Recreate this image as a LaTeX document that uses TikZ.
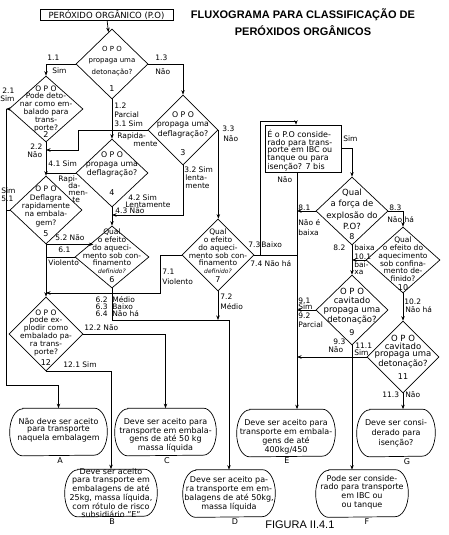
\documentclass[tikz,border=0pt]{standalone}
\usepackage{fontspec}
\usepackage{graphicx}
\setmainfont{DejaVu Sans}
\newfontfamily\arialfam{Liberation Sans}
\usetikzlibrary{shapes.geometric,arrows.meta}
\newcommand\myStadium[1]{%
  \draw ([xshift=13pt]#1.north west) -- ([xshift=-13pt]#1.north east)
    arc[start angle=90,end angle=-90,x radius=13pt,y radius=23.5pt]
    -- ([xshift=13pt]#1.south west)
    arc[start angle=270,end angle=90,x radius=13pt,y radius=23.5pt] -- cycle;}
\begin{document}
\begin{tikzpicture}[x=1pt,y=-1pt, line width=0.7pt, >={Stealth[length=4.5pt,width=3.5pt]},
 dia/.style 2 args={diamond, draw, minimum width=#1, minimum height=#2, inner sep=0pt},
 dt/.style 2 args={font=\fontsize{#1}{#2}\selectfont, align=center, inner sep=0pt},
 lb/.style={font=\fontsize{7.5}{8}\selectfont, inner sep=0pt, anchor=west},
 lbe/.style={font=\fontsize{7.5}{8}\selectfont, inner sep=0pt, anchor=east},
 num/.style={font=\fontsize{8}{8}\selectfont, inner sep=0pt},
 defi/.style={font=\fontsize{6}{6}\selectfont\itshape, inner sep=0pt},
 term/.style={minimum height=47, inner sep=0pt},
 tt/.style 2 args={font=\fontsize{#1}{#2}\selectfont, align=center, inner sep=0pt},
 tlet/.style={font=\fontsize{8}{8}\selectfont, inner sep=0pt},
]
\useasboundingbox (0,0) rectangle (448,535);

% ---------- titles ----------
\node[draw, minimum width=133, minimum height=11, inner sep=0pt, font=\fontsize{8.5}{9}\selectfont] (po) at (106.5,15) {PERÓXIDO ORGÂNICO (P.O)};
\node[inner sep=0pt, align=center, font=\arialfam\bfseries\fontsize{11}{17}\selectfont] (title) at (303,22) {\scalebox{1.0}[1]{FLUXOGRAMA PARA CLASSIFICAÇÃO DE}\\\scalebox{1.0}[1]{PERÓXIDOS ORGÂNICOS}};
\node[anchor=west, inner sep=0pt, font=\arialfam\fontsize{11}{11}\selectfont] (fig) at (265,525) {FIGURA II.4.1};

% ---------- diamonds ----------
\node[dia={72}{70}] (d1) at (112,64) {};
\node[dia={74}{66}] (d2) at (46,109) {};
\node[dia={70}{70}] (d3) at (183,130) {};
\node[dia={72}{68}] (d4) at (112,173) {};
\node[dia={72}{68}] (d5) at (46,210) {};
\node[dia={74}{62}] (d6) at (112,257) {};
\node[dia={72}{72}] (d7) at (218,255) {};
\node[dia={74}{74}] (d12) at (46,334) {};
\node[dia={72}{68}] (d8) at (352,211) {};
\node[dia={72}{70}] (d9) at (352,310) {};
\node[dia={74}{66}] (d10) at (403,260) {};
\node[dia={72}{72}] (d11) at (403,357) {};

\node[dt={7}{11.5}] (d1t) at (112,61) {O P O\\propaga uma\\detonação?};
\node[num] (d1n) at (112,89) {1};
\node[dt={7.5}{7.8}] (d2t) at (46,108.5) {O P O\\Pode deto-\\nar como em-\\balado para\\trans-\\porte?};
\node[num] (d2n) at (46,135) {2};
\node[dt={7.8}{9.5}] (d3t) at (183,124.5) {O P O\\propaga uma\\deflagração?};
\node[num] (d3n) at (183,153) {3};
\node[dt={7.8}{9}] (d4t) at (112,164) {O P O\\propaga uma\\deflagração?};
\node[num] (d4n) at (112,193) {4};
\node[dt={7.5}{8.3}] (d5t) at (46,206.5) {O P O\\Deflagra\\rapidamente\\na embala-\\gem?};
\node[num] (d5n) at (46,234) {5};
\node[dt={7.5}{7.8}] (d6t) at (112,247.5) {Qual\\o efeito\\do aqueci-\\mento sob con-\\finamento};
\node[defi] (d6d) at (112,271) {definido?};
\node[num] (d6n) at (112,280) {6};
\node[dt={7.5}{7.8}] (d7t) at (218,247.5) {Qual\\o efeito\\do aqueci-\\mento sob con-\\finamento};
\node[defi] (d7d) at (218,271) {definido?};
\node[num] (d7n) at (218,280) {7};
\node[dt={7.5}{7.8}] (d12t) at (46,332.5) {O P O\\pode ex-\\plodir como\\embalado pa-\\ra trans-\\porte?};
\node[num] (d12n) at (46,363) {12};
\node[dt={8.5}{11.5}] (d8t) at (352,209.5) {Qual\\a força de\\explosão do\\P.O?};
\node[num] (d8n) at (352,237) {8};
\node[dt={8.5}{9.3}] (d9t) at (352,306) {O P O\\cavitado\\propaga uma\\detonação?};
\node[num] (d9n) at (352,333) {9};
\node[dt={7.5}{7.8}] (d10t) at (403,259.5) {Qual\\o efeito do\\aquecimento\\sob confina-\\mento de-\\finido?};
\node[num] (d10n) at (403,288) {10};
\node[dt={8.5}{7.8}] (d11t) at (403,351.5) {O P O\\cavitado\\propaga uma\\detonação?};
\node[num] (d11n) at (403,377) {11};

% ---------- box 7 bis ----------
\node[draw, minimum width=76, minimum height=47, inner sep=0pt] (b7) at (303,148.5) {};
\node[anchor=west, align=left, inner sep=0pt, font=\fontsize{8}{7.8}\selectfont] (b7t) at (267,150.5) {É o P.O conside-\\rado para trans-\\porte em IBC ou\\tanque ou para\\isenção? 7 bis};

% ---------- terminal boxes ----------
\node[term, minimum width=97] (A) at (58.5,432) {};
\node[term, minimum width=101] (C) at (165.5,432) {};
\node[term, minimum width=98] (E) at (286,433) {};
\node[term, minimum width=78] (G) at (396,433) {};
\node[term, minimum width=92] (B) at (111,493) {};
\node[term, minimum width=92] (D) at (229,493.5) {};
\node[term, minimum width=92] (F) at (362,493.5) {};
\myStadium{A}\myStadium{C}\myStadium{E}\myStadium{G}\myStadium{B}\myStadium{D}\myStadium{F}

\node[tt={8}{7.5}] (At) at (58.5,430) {Não deve ser aceito\\para transporte\\naquela embalagem};
\node[tt={8}{8.5}] (Ct) at (165.5,435.5) {Deve ser aceito para\\transporte em embala-\\gens de até 50 kg\\massa líquida};
\node[tt={8}{9}] (Et) at (286,436.5) {Deve ser aceito para\\transporte em embala-\\gens de até\\400kg/450};
\node[tt={8}{10}] (Gt) at (396,433) {Deve ser consi-\\derado para\\isenção?};
\node[tt={8}{8}] (Bt) at (111,493) {Deve ser aceito\\para transporte em\\embalagens de até\\25kg, massa líquida,\\com rótulo de risco\\subsidiário "E"};
\node[tt={8}{9}] (Dt) at (229,493.5) {Deve ser aceito pa-\\ra transporte em em-\\balagens de até 50kg,\\massa líquida};
\node[tt={8}{8.7}] (Ft) at (362,492) {Pode ser conside-\\rado para transporte\\em IBC ou\\ou tanque};

\node[tlet] (Al) at (60,461) {A};
\node[tlet] (Cl) at (167,461) {C};
\node[tlet] (El) at (287,461) {E};
\node[tlet] (Gl) at (407,462) {G};
\node[tlet] (Bl) at (112,522) {B};
\node[tlet] (Dl) at (235,522) {D};
\node[tlet] (Fl) at (367,522) {F};

% ---------- junction coordinates ----------
\coordinate (lA) at (6,385);
\coordinate (j31) at (78,150);
\coordinate (j32) at (112,215);
\coordinate (j71) at (160,293);
\coordinate (j6) at (229,320);
\coordinate (j73) at (260,121);
\coordinate (j73b) at (296,121);
\coordinate (ex) at (297,300);

% ---------- connectors ----------
\draw[->] (po) -- (d1);
\draw[->] (d1.west) -| (d2.north);
\draw[->] (d1.east) -| (d3.north);
\draw[->] (d1.south) -- (d4.north);
\draw[->] (d3.west) -| (j31) -- (j31 -| d5.north);
\draw[->] (d2.west) -- (d2.west -| lA);
\draw[->] (d2.west -| lA) -- (lA) -| (A.north);
\draw[->] (d2.south) -- (d5.north);
\draw (d4.west) -- (d4.west -| d5.north);
\draw (d5.west) -- (d5.west -| lA);
\draw[->] (d3.south) |- (j32);
\draw[->] (d4.south) -- (d6.north);
\draw[->] (d5.south) -- (d6.north west |- d5.south);
\draw (d6.west) -- (d6.west -| d5.south);
\draw[->] (d5.south) -- (d12.north);
\draw[->] (d7.west) -| (j71) -- (j71 -| d12.north);
\draw[->] (d6.south) |- (j6) -- (D.north);
\draw[->] (d7.south) -- (d7.south |- j6);
\draw[->] (d12.south) -| (B.north);
\draw[->] (d12.east) -| (C.north);
\draw[->] (d3.east) -- (d3.east |- d7.north);
\draw[->] (d7.east) -- (d7.east -| j73) -- (j73) -- (j73b) -- (j73b |- b7.north);
\draw (d7.east) -- (d7.east -| ex);
\draw[->] (b7.south -| ex) -- (E.north -| ex);
\draw[->] (b7.east) -| (d8.north);
\draw[->] (d8.west) -- (d8.west -| ex);
\draw[->] (d8.south) -- (d9.north);
\draw[->] (d8.east) -| (d10.north);
\draw[->] (d10.west) -- (d10.west -| d9.north);
\draw[->] (d9.west) -- (d9.west -| ex);
\draw[->] (d9.south) -- (d9.south |- F.north);
\draw[->] (d10.south) -- (d11.north);
\draw[->] (d11.west) -- (d11.west -| ex);
\draw[->] (d11.south) -- (d11.south |- G.north);

% ---------- labels ----------
\node[lb] (l11a) at (47,58) {1.1};
\node[lb] (l11b) at (52,71) {Sim};
\node[lb] (l13a) at (155,58) {1.3};
\node[lb] (l13b) at (155,72) {Não};
\node[lb] (l12a) at (114,106) {1.2};
\node[lb] (l12b) at (114,115) {Parcial};
\node[lb] (l31a) at (114,124) {3.1 Sim};
\node[lb] (l31b) at (117,136) {Rapida-};
\node[lb] (l31c) at (133,144) {mente};
\node[lb] (l21a) at (2,91) {2.1};
\node[lb] (l21b) at (0,99) {Sim};
\node[lb] (l22a) at (30,147) {2.2};
\node[lb] (l22b) at (27,155) {Não};
\node[lb] (l41a) at (48,164) {4.1 Sim};
\node[lb] (l41b) at (58,179) {Rapi-};
\node[lb] (l41c) at (68,186) {da-};
\node[lb] (l41d) at (68,193) {men-};
\node[lb] (l41e) at (72,200) {te};
\node[lb] (l51a) at (1,191) {Sim};
\node[lb] (l51b) at (1,199) {5.1};
\node[lb] (l33a) at (222,129) {3.3};
\node[lb] (l33b) at (223,139) {Não};
\node[lb] (l32a) at (184,170) {3.2 Sim};
\node[lb] (l32b) at (185,178) {lenta-};
\node[lb] (l32c) at (185,186) {mente};
\node[lb] (l42a) at (128,198) {4.2 Sim};
\node[lb] (l42b) at (125,205) {Lentamente};
\node[lb] (l43) at (115,211) {4.3 Não};
\node[lb] (l52) at (55,238) {5.2 Não};
\node[lb] (l61a) at (58,250) {6.1};
\node[lb] (l61b) at (48,263) {Violento};
\node[lbe] (l62a) at (108,300) {6.2};
\node[lb] (l62b) at (112,300) {Médio};
\node[lbe] (l63a) at (108,307) {6.3};
\node[lb] (l63b) at (112,307) {Baixo};
\node[lbe] (l64a) at (108,314) {6.4};
\node[lb] (l64b) at (112,314) {Não há};
\node[lb] (l71a) at (162,272) {7.1};
\node[lb] (l71b) at (162,282) {Violento};
\node[lb] (l72a) at (220,297) {7.2};
\node[lb] (l72b) at (220,307) {Médio};
\node[lb] (l73a) at (248,245) {7.3};
\node[lb] (l73b) at (261,245) {Baixo};
\node[lb] (l74) at (250,264) {7.4 Não há};
\node[lb] (l122) at (84,328) {12.2 Não};
\node[lb] (l121) at (63,365) {12.1 Sim};
\node[lb] (l7n) at (277,180) {Não};
\node[lb] (l7s) at (343,139) {Sim};
\node[lb] (l81a) at (298,208) {8.1};
\node[lb] (l81b) at (298,223) {Não é};
\node[lb] (l81c) at (298,233) {baixa};
\node[lb] (l83a) at (389,208) {8.3};
\node[lb] (l83b) at (387,220) {Não há};
\node[lb] (l82a) at (333,248) {8.2};
\node[lb] (l82b) at (354,248) {baixa};
\node[lb] (l101a) at (354,257) {10.1};
\node[lb] (l101b) at (354,265) {bai-};
\node[lb] (l101c) at (354,272) {xa};
\node[lb] (l91a) at (298,301) {9.1};
\node[lb] (l91b) at (298,307) {Sim};
\node[lb] (l92a) at (298,316) {9.2};
\node[lb] (l92b) at (298,325) {Parcial};
\node[lb] (l93a) at (333,342) {9.3};
\node[lb] (l93b) at (328,350) {Não};
\node[lb] (l111a) at (355,346) {11.1};
\node[lb] (l111b) at (354,353) {Sim};
\node[lb] (l102a) at (404,302) {10.2};
\node[lb] (l102b) at (405,310) {Não há};
\node[lb] (l113a) at (382,395) {11.3};
\node[lb] (l113b) at (405,395) {Não};
\end{tikzpicture}
\end{document}
